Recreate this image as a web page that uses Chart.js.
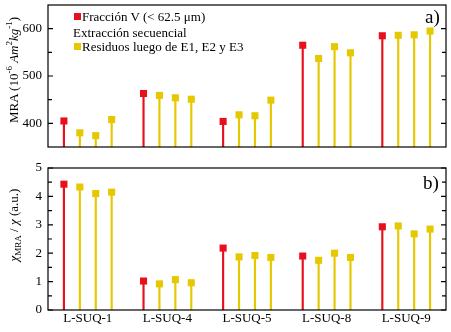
<!DOCTYPE html>
<html lang="es">
<head>
  <meta charset="UTF-8">
  <title>MRA y cociente χMRA/χ</title>
  <script src="https://cdn.jsdelivr.net/npm/chart.js"></script>
  <style>
    body { margin: 0; background: #fff; }
    #wrap {
      position: relative;
      width: 451px;
      height: 332px;
      font-family: "Liberation Serif", "DejaVu Serif", serif;
      color: #000;
    }
    canvas { position: absolute; left: 0; }
    #topChart { top: 0; }
    #bottomChart { top: 160px; }
    .txt { position: absolute; white-space: nowrap; font-size: 13px; line-height: 13px; }
    .sq { position: absolute; width: 7px; height: 7px; }
    .ytitle {
      position: absolute;
      white-space: nowrap;
      font-size: 13px;
      line-height: 13px;
      transform: translate(-50%, -50%) rotate(-90deg);
    }
    .tag { position: absolute; font-size: 19px; line-height: 19px; }
    sup, sub { font-size: 9px; line-height: 0; }
  </style>
</head>
<body>
  <div id="wrap">
    <canvas id="topChart" width="451" height="160"></canvas>
    <canvas id="bottomChart" width="451" height="172"></canvas>

    <div class="sq" style="left:74px; top:13px; background:#e8101c;"></div>
    <div class="txt" style="left:82px; top:10px;">Fracción V (&lt; 62.5 μm)</div>
    <div class="txt" style="left:73px; top:26px;">Extracción secuencial</div>
    <div class="sq" style="left:74px; top:43px; background:#e6c800;"></div>
    <div class="txt" style="left:82px; top:40px;">Residuos luego de E1, E2 y E3</div>

    <div class="tag" style="left:425px; top:7px;">a)</div>
    <div class="tag" style="left:423px; top:173px;">b)</div>

    <div class="ytitle" style="left:13px; top:70px;">MRA (10<sup>-6</sup> <i>Am</i><sup>2</sup><i>kg</i><sup>-1</sup>)</div>
    <div class="ytitle" style="left:13px; top:225px;"><i>χ</i><sub>MRA</sub> / <i>χ</i> (a.u.)</div>
  </div>

  <script>
    // muestras y posiciones en el eje x
    const groups = ['L-SUQ-1', 'L-SUQ-4', 'L-SUQ-5', 'L-SUQ-8', 'L-SUQ-9'];
    const groupPos = [2.5, 7.5, 12.5, 17.5, 22.5];
    const fracPos = [1, 6, 11, 16, 21];
    const residPos = [2, 3, 4, 7, 8, 9, 12, 13, 14, 17, 18, 19, 22, 23, 24];

    // MRA (10^-6 Am2/kg)
    const mraFrac = [405, 463, 404, 565, 585];
    const mraResid = [380, 374, 408, 459, 454, 451, 418, 416, 449, 537, 562, 549, 586, 587, 595];

    // chi_MRA / chi
    const ratioFrac = [4.43, 1.02, 2.18, 1.90, 2.93];
    const ratioResid = [4.33, 4.10, 4.15, 0.92, 1.07, 0.96, 1.87, 1.92, 1.85, 1.75, 2.00, 1.85, 2.96, 2.68, 2.85];

    const mraTicks = [400, 500, 600];
    const mraMinor = [450, 550];
    const ratioTicks = [0, 1, 2, 3, 4, 5];
    const ratioMinor = [0.5, 1.5, 2.5, 3.5, 4.5];

    const RED = '#e8101c';
    const YEL = '#e6c800';
    const FONT = { family: 'Liberation Serif', size: 13 };

    function pts(xs, ys) {
      return xs.map((x, i) => ({ x: x, y: ys[i] }));
    }
    function stems(xs, ys, base) {
      return xs.map((x, i) => ({ x: x, y: [base, ys[i]] }));
    }

    // marco y marcas hacia adentro
    function framePlugin(major, minor) {
      return {
        id: 'frame',
        afterDraw(chart) {
          const ctx = chart.ctx;
          const a = chart.chartArea;
          const y = chart.scales.y;
          ctx.save();
          ctx.strokeStyle = '#000';
          ctx.lineWidth = 1.2;
          ctx.strokeRect(a.left, a.top, a.right - a.left, a.bottom - a.top);
          ctx.beginPath();
          major.concat(minor).forEach(v => {
            const len = major.includes(v) ? 5 : 4;
            const py = y.getPixelForValue(v);
            ctx.moveTo(a.left, py);
            ctx.lineTo(a.left + len, py);
            ctx.moveTo(a.right, py);
            ctx.lineTo(a.right - len, py);
          });
          ctx.stroke();
          ctx.restore();
        }
      };
    }

    function makeChart(id, opts) {
      const base = opts.min;
      return new Chart(document.getElementById(id), {
        type: 'bar',
        data: {
          datasets: [
            { type: 'scatter', data: pts(fracPos, opts.frac), backgroundColor: RED, pointStyle: 'rect', pointRadius: 5, borderWidth: 0 },
            { type: 'scatter', data: pts(residPos, opts.resid), backgroundColor: YEL, pointStyle: 'rect', pointRadius: 5, borderWidth: 0 },
            { data: stems(fracPos, opts.frac, base), backgroundColor: RED, barThickness: 1.5, grouped: false },
            { data: stems(residPos, opts.resid, base), backgroundColor: YEL, barThickness: 1.5, grouped: false }
          ]
        },
        options: {
          responsive: false,
          animation: false,
          layout: { padding: opts.padding },
          plugins: { legend: { display: false }, tooltip: { enabled: false } },
          scales: {
            x: {
              type: 'linear',
              min: 0,
              max: 25,
              offset: false,
              display: opts.showX,
              grid: { display: false, drawTicks: false },
              border: { display: false },
              afterBuildTicks: s => { s.ticks = groupPos.map(v => ({ value: v })); },
              afterFit: s => { s.height = opts.showX ? 22 : 0; s.paddingLeft = 0; s.paddingRight = 0; },
              ticks: {
                autoSkip: false,
                maxRotation: 0,
                padding: 1,
                color: '#000',
                font: FONT,
                callback: v => groups[groupPos.indexOf(v)]
              }
            },
            y: {
              min: opts.min,
              max: opts.max,
              grid: { display: false, drawTicks: false },
              border: { display: false },
              afterBuildTicks: s => { s.ticks = opts.ticks.map(v => ({ value: v })); },
              afterFit: s => { s.width = 48; s.paddingTop = 0; s.paddingBottom = 0; },
              ticks: { padding: 6, color: '#000', font: FONT }
            }
          }
        },
        plugins: [framePlugin(opts.ticks, opts.minor)]
      });
    }

    makeChart('topChart', {
      frac: mraFrac, resid: mraResid, min: 350, max: 650,
      ticks: mraTicks, minor: mraMinor, showX: false,
      padding: { top: 4, bottom: 13, left: 0, right: 3 }
    });

    makeChart('bottomChart', {
      frac: ratioFrac, resid: ratioResid, min: 0, max: 5,
      ticks: ratioTicks, minor: ratioMinor, showX: true,
      padding: { top: 8, bottom: 0, left: 0, right: 3 }
    });
  </script>
</body>
</html>
